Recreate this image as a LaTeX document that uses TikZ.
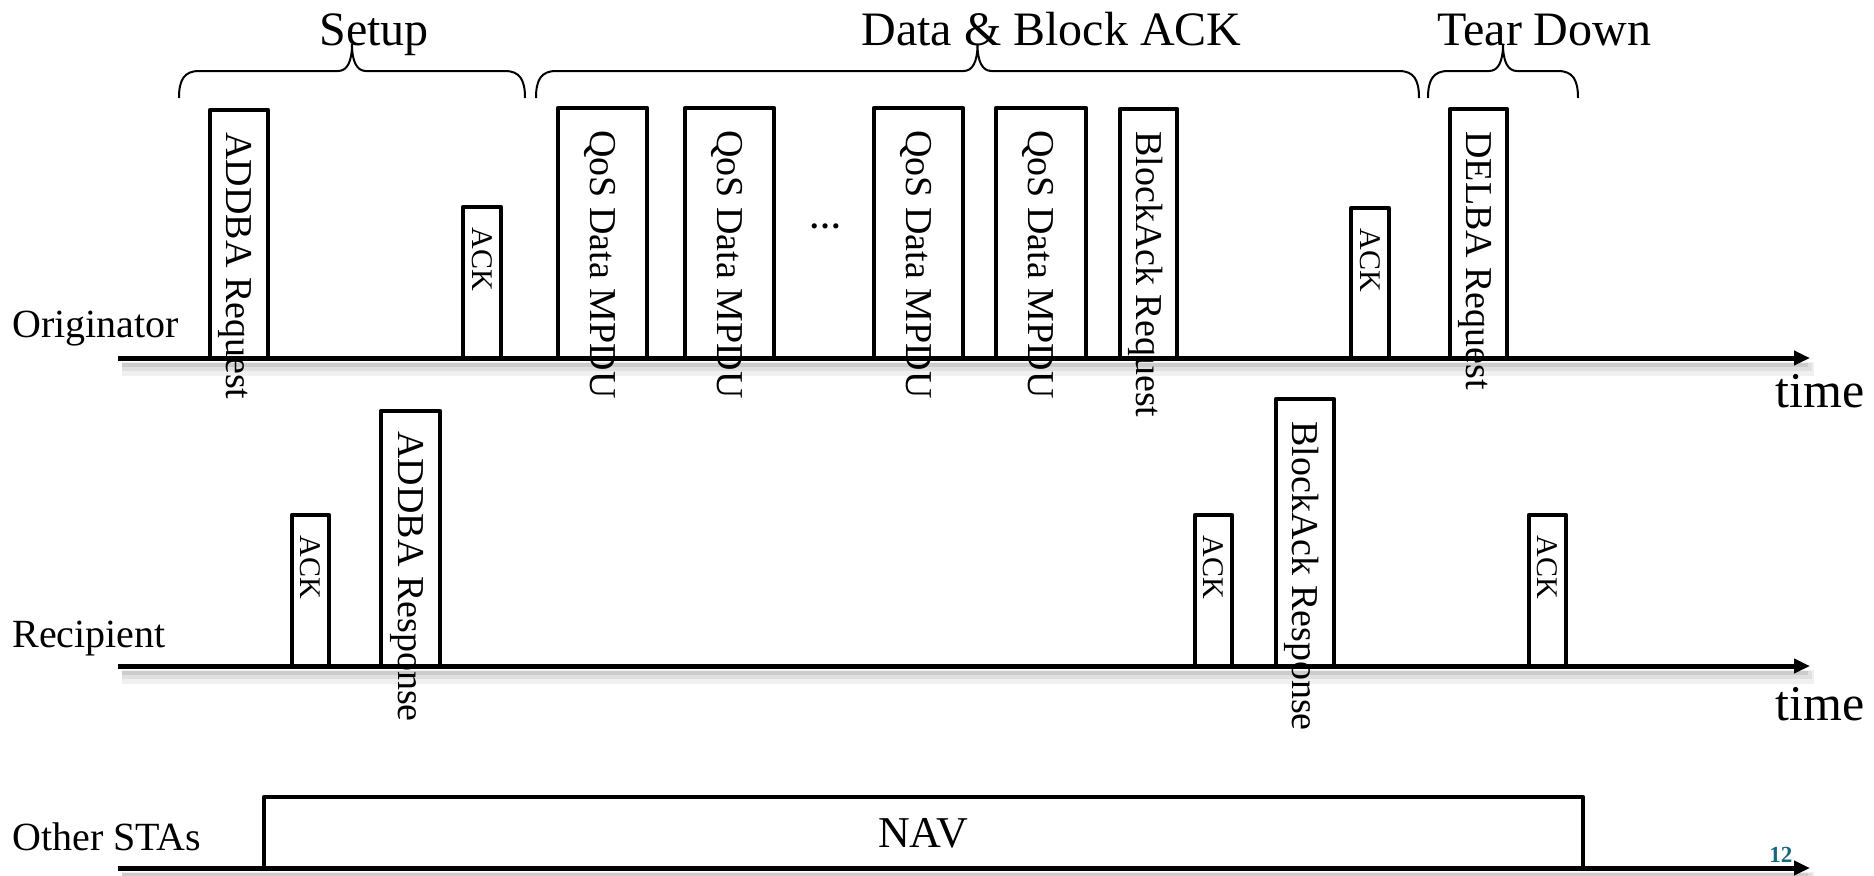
\documentclass[tikz,border=0pt]{standalone}
\usepackage{fontspec}
\setmainfont{Liberation Serif}
\usetikzlibrary{arrows.meta}
\definecolor{pgnum}{RGB}{23,104,125}
\newcommand{\pktbox}[5]{% name, x1, x2, ytop, ybottom
  \pgfmathsetmacro{\pkw}{(#3-#2)*0.5}%
  \pgfmathsetmacro{\pkh}{(#5-#4)*0.5}%
  \node[frame, minimum width=\pkw pt, minimum height=\pkh pt] (#1) at ({(#2+#3)/2},{(#4+#5)/2}) {};%
}
\newcommand{\bracepath}[2]{%
  \pgfmathsetmacro{\bmid}{(#1+#2)/2}%
  \draw[brc] (#1,98) .. controls (#1,80) and (#1+5,71) .. (#1+20,71) -- (\bmid-14,71)
    .. controls (\bmid-5,71) and (\bmid,62) .. (\bmid,44)
    .. controls (\bmid,62) and (\bmid+5,71) .. (\bmid+14,71) -- (#2-20,71)
    .. controls (#2-5,71) and (#2,80) .. (#2,98);%
}
\begin{document}
\begin{tikzpicture}[x=0.5pt,y=-0.5pt,
  frame/.style={draw=black, line width=2.3pt, line join=round, fill=white, inner sep=0pt, outer sep=0pt},
  axis/.style={line width=2.5pt, -{Triangle[length=8pt,width=7pt]}},
  shda/.style={line width=7pt, draw=black!6},
  shdb/.style={line width=4pt, draw=black!12},
  shdc/.style={line width=2pt, draw=black!20},
  brc/.style={line width=1pt},
  vlab/.style={rotate=-90, anchor=west, inner sep=0pt, font=\fontsize{19pt}{22pt}\selectfont, text height=12.5pt, text depth=0pt},
  acklab/.style={rotate=-90, anchor=west, inner sep=0pt, font=\fontsize{15pt}{18pt}\selectfont, text height=10pt, text depth=0pt},
  ttl/.style={font=\fontsize{24pt}{28pt}\selectfont, anchor=base west, inner sep=0pt},
  lbl/.style={font=\fontsize{20pt}{24pt}\selectfont, anchor=base west, inner sep=0pt},
  tlbl/.style={font=\fontsize{25pt}{30pt}\selectfont, anchor=base west, inner sep=0pt},
]
\useasboundingbox (0,0) rectangle (1874,875);

% axis coordinates
\coordinate (o1) at (118,358); \coordinate (o2) at (1810,358);
\coordinate (r1) at (118,666); \coordinate (r2) at (1810,666);
\coordinate (s1) at (118,868); \coordinate (s2) at (1810,868);

% soft shadows under the time axes
\foreach \yy in {358,666,868}{
  \draw[shda] (122,\yy+11) -- (1814,\yy+11);
  \draw[shdb] (122,\yy+9) -- (1812,\yy+9);
  \draw[shdc] (122,\yy+7) -- (1808,\yy+7);
}

% braces and titles
\bracepath{179}{525}
\bracepath{536}{1419}
\bracepath{1428}{1578}
\node[ttl] (tsetup) at (319,45) {Setup};
\node[ttl] (tdata) at (861,45) {Data \& Block ACK};
\node[ttl] (ttear) at (1437,45) {Tear Down};

% originator frames
\pktbox{addreq}{210}{268}{110}{358}
\pktbox{acka}{463}{501}{207}{358}
\pktbox{qosa}{558}{647}{108}{358}
\pktbox{qosb}{685}{774}{108}{358}
\pktbox{qosc}{874}{963}{108}{358}
\pktbox{qosd}{996}{1086}{108}{358}
\pktbox{bareq}{1120}{1177}{109}{358}
\pktbox{ackb}{1351}{1389}{208}{358}
\pktbox{delba}{1450}{1507}{109}{358}
% recipient frames
\pktbox{ackc}{292}{329}{515}{666}
\pktbox{addresp}{381}{440}{411}{666}
\pktbox{ackd}{1195}{1232}{515}{666}
\pktbox{baresp}{1276}{1334}{399}{666}
\pktbox{acke}{1529}{1566}{515}{666}
% NAV
\pktbox{nav}{264}{1583}{797}{868}

% axes
\draw[axis] (o1) -- (o2);
\draw[axis] (r1) -- (r2);
\draw[axis] (s1) -- (s2);

% vertical labels
\node[vlab] (laddreq) at ([yshift=-11pt]addreq.north) {ADDBA Request};
\node[acklab] (lacka) at ([yshift=-10pt]acka.north) {ACK};
\node[vlab] (lqosa) at ([yshift=-11pt]qosa.north) {QoS Data MPDU};
\node[vlab] (lqosb) at ([yshift=-11pt]qosb.north) {QoS Data MPDU};
\node[vlab] (lqosc) at ([yshift=-11pt]qosc.north) {QoS Data MPDU};
\node[vlab] (lqosd) at ([yshift=-11pt]qosd.north) {QoS Data MPDU};
\node[vlab] (lbareq) at ([yshift=-11pt]bareq.north) {BlockAck Request};
\node[acklab] (lackb) at ([yshift=-10pt]ackb.north) {ACK};
\node[vlab] (ldelba) at ([yshift=-11pt]delba.north) {DELBA Request};
\node[acklab] (lackc) at ([yshift=-10pt]ackc.north) {ACK};
\node[vlab] (laddresp) at ([yshift=-10pt]addresp.north) {ADDBA Response};
\node[acklab] (lackd) at ([yshift=-10pt]ackd.north) {ACK};
\node[vlab] (lbaresp) at ([yshift=-11pt]baresp.north) {BlockAck Response};
\node[acklab] (lacke) at ([yshift=-10pt]acke.north) {ACK};
\node[font=\fontsize{16pt}{18pt}\selectfont\bfseries, anchor=base, inner sep=0pt] (dots) at (825,228) {\dots};
\node[font=\fontsize{22pt}{26pt}\selectfont, anchor=base, inner sep=0pt] (navt) at (923,847) {NAV};

% row labels
\node[lbl] (lorig) at (12,337) {Originator};
\node[lbl] (lrec) at (12,647) {Recipient};
\node[lbl] (loth) at (12,850) {Other STAs};
\node[tlbl] (time1) at (1775,407) {time};
\node[tlbl] (time2) at (1775,720) {time};
\node[font=\fontsize{11.5pt}{13pt}\selectfont\bfseries, text=pgnum, anchor=base west, inner sep=0pt] (pnum) at (1769,862) {12};
\end{tikzpicture}
\end{document}
